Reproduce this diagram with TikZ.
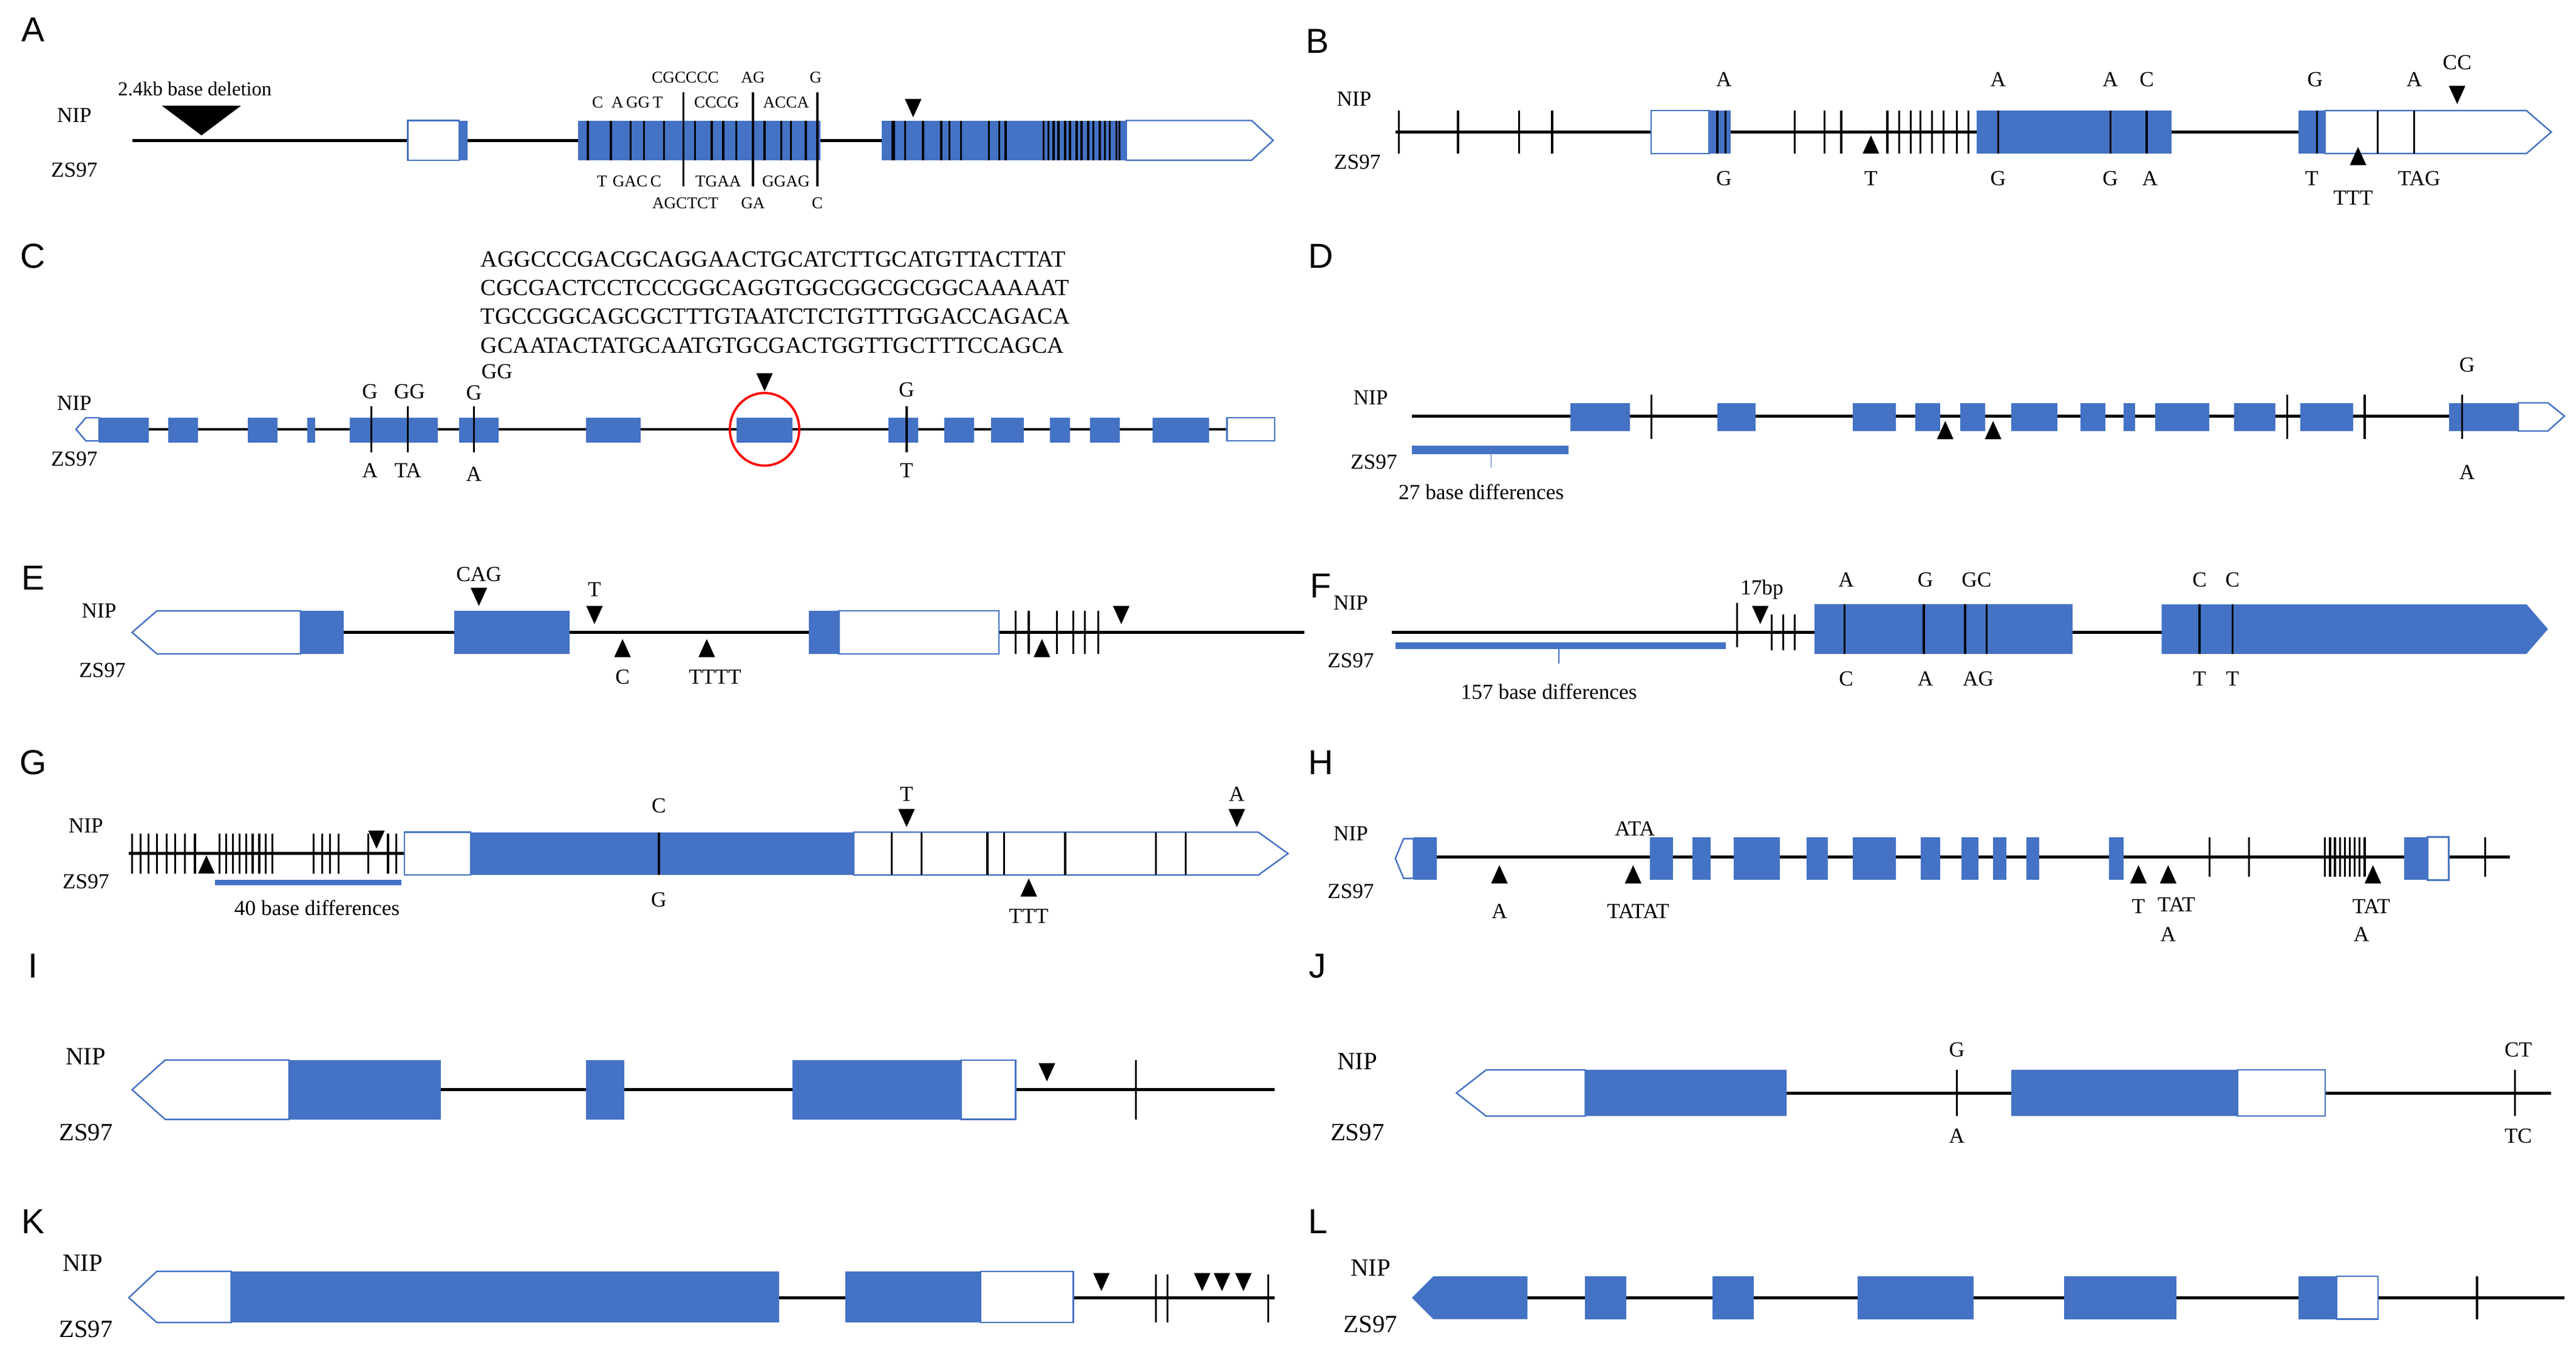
\documentclass[tikz,border=0pt]{standalone}
\usepackage{fontspec}
\setmainfont{Liberation Serif}
\newfontfamily\sansf{Liberation Sans}
\definecolor{gb}{RGB}{68,114,196}
\newcommand\GL[3]{\draw[gl] (#1,#3)--(#2,#3);}
\newcommand\EX[4]{\fill[gb] (#1,#3) rectangle (#2,#4);}
\newcommand\UT[4]{\draw[gb,fill=white,line width=0.9pt] (#1,#3) rectangle (#2,#4);}
\newcommand\TK[3]{\draw[snp] (#1,#2)--(#1,#3);}
\newcommand\TD[2]{\fill (#1-5,#2)--(#1+5,#2)--(#1,#2+11)--cycle;}
\newcommand\TU[2]{\fill (#1-5,#2)--(#1+5,#2)--(#1,#2-11)--cycle;}
\newcommand\LB[3]{\node[lab] at (#1,#2) {#3};}
\newcommand\SL[3]{\node[slab] at (#1,#2) {#3};}
\newcommand\PL[3]{\node[pl] at (#1,#2) {#3};}
\begin{document}
\begin{tikzpicture}[x=1pt,y=-1pt,
 gl/.style={line width=1.8pt},
 snp/.style={line width=1.2pt},
 lab/.style={font=\fontsize{13}{13}\selectfont,inner sep=0},
 slab/.style={font=\fontsize{10}{10}\selectfont,inner sep=0},
 pl/.style={font=\sansf\fontsize{21}{21}\selectfont,inner sep=0},
 nm/.style={font=\fontsize{13}{13}\selectfont,inner sep=0}]
\useasboundingbox (0,0) rectangle (1560,820);
% ===== A
\PL{20}{18}{A}
\node[nm] at (45,70) {NIP}; \node[nm] at (45,103) {ZS97};
\GL{80}{770}{85}
\fill (98,64)--(146,64)--(122,82)--cycle;
\SL{118}{54}{\fontsize{12}{12}\selectfont 2.4kb base deletion}
\UT{247}{278}{73}{97} \EX{278}{283}{73}{97}
\EX{350}{497}{73}{97} \EX{534}{682}{73}{97}
\draw[gb,fill=white,line width=0.9pt] (682,73)--(758,73)--(771,85)--(758,97)--(682,97)--cycle;
\foreach \x in {356,370,382,390,402,421,431,438,446,463,473,479,488} {\TK{\x}{73}{97}}
\foreach \x in {414,456,495} {\TK{\x}{56}{113}}
\foreach \x in {541,548,559,570,575,582,599,605,609,632,635,638,641,645,648,652,655,659,662,666,669,672,676,678} {\TK{\x}{73}{97}}
\draw[line width=2.4pt] (541,73)--(541,97);
\TD{553}{60}
\SL{415}{47}{CGCCCC} \SL{456}{47}{AG} \SL{494}{47}{G}
\SL{380}{62}{C\,\,\,A\,GG\,T} \SL{434}{62}{CCCG} \SL{476}{62}{ACCA}
\SL{381}{110}{T\,\,GAC\,C} \SL{435}{110}{TGAA} \SL{476}{110}{GGAG}
\SL{415}{123}{AGCTCT} \SL{456}{123}{GA} \SL{495}{123}{C}
% ===== B
\PL{798}{25}{B}
\node[nm] at (820,60) {NIP}; \node[nm] at (822,98) {ZS97};
\GL{845}{1392}{80}
\foreach \x in {847,883,920,940,1087,1105,1115,1143,1150,1157,1163,1170,1177,1185,1192} {\TK{\x}{67}{93}}
\UT{1000}{1035}{67}{93} \EX{1035}{1048}{67}{93}
\TK{1040}{67}{93}\TK{1045}{67}{93}
\TU{1133}{93}
\EX{1197}{1315}{67}{93}
\foreach \x in {1210,1278,1300} {\TK{\x}{67}{93}}
\EX{1392}{1408}{67}{93}
\draw[gb,fill=white,line width=0.9pt] (1408,67)--(1530,67)--(1545,80)--(1530,93)--(1408,93)--cycle;
\foreach \x in {1403,1440,1462} {\TK{\x}{67}{93}}
\TU{1428}{100} \TD{1488}{52}
\LB{1044}{48}{A}\LB{1044}{108}{G}\LB{1133}{108}{T}
\LB{1210}{48}{A}\LB{1210}{108}{G}\LB{1278}{48}{A}\LB{1278}{108}{G}
\LB{1300}{48}{C}\LB{1302}{108}{A}
\LB{1402}{48}{G}\LB{1400}{108}{T}\LB{1462}{48}{A}\LB{1465}{108}{TAG}
\LB{1425}{120}{TTT}\LB{1488}{38}{CC}
% ===== C
\PL{20}{155}{C}
\node[lab,anchor=west,align=left,font=\fontsize{14}{17.4}\selectfont] at (291,183) {AGGCCCGACGCAGGAACTGCATCTTGCATGTTACTTAT\\CGCGACTCCTCCCGGCAGGTGGCGGCGCGGCAAAAAT\\TGCCGGCAGCGCTTTGTAATCTCTGTTTGGACCAGACA\\GCAATACTATGCAATGTGCGACTGGTTGCTTTCCAGCA};
\node[nm] at (45,244) {NIP}; \node[nm] at (45,278) {ZS97};
\GL{60}{745}{260}
\draw[gb,fill=white,line width=0.9pt] (60,253)--(52,253)--(46,260)--(52,267)--(60,267)--cycle;
\foreach \a/\b in {60/90,102/120,150/168,186/191,212/265,278/302,355/388,446/480,538/556,572/590,600/620,636/648,660/678,698/732} {\EX{\a}{\b}{253}{268}}
\UT{743}{772}{253}{267}
\foreach \x in {225,247,287,549} {\TK{\x}{246}{274}}
\draw[red,line width=1.4pt] (463,260) ellipse [x radius=21,y radius=22];
\TD{463}{226}
\LB{224}{237}{G}\LB{248}{237}{GG}\LB{287}{238}{G}\LB{301}{225}{GG}\LB{549}{236}{G}
\LB{224}{285}{A}\LB{247}{285}{TA}\LB{287}{287}{A}\LB{549}{285}{T}
% ===== D
\PL{800}{155}{D}
\node[nm] at (830,241) {NIP}; \node[nm] at (832,280) {ZS97};
\GL{855}{1525}{252}
\foreach \a/\b in {951/987,1040/1063,1122/1148,1160/1175,1187/1202,1218/1246,1260/1275,1286/1293,1305/1338,1353/1378,1393/1425,1483/1525} {\EX{\a}{\b}{244}{261}}
\draw[gb,fill=white,line width=0.9pt] (1525,244)--(1543,244)--(1553,252)--(1543,261)--(1525,261)--cycle;
\foreach \x in {1000,1385,1432,1491} {\TK{\x}{239}{266}}
\TU{1178}{266}\TU{1207}{266}
\fill[gb] (855,270) rectangle (950,275);
\draw[gb,line width=0.6pt] (903,275)--(903,283);
\LB{897}{298}{27 base differences}
\LB{1494}{221}{G}\LB{1494}{286}{A}
% ===== E
\PL{20}{350}{E}
\node[nm] at (60,370) {NIP}; \node[nm] at (62,406) {ZS97};
\GL{208}{790}{383}
\draw[gb,fill=white,line width=0.9pt] (182,370)--(95,370)--(80,383)--(95,396)--(182,396)--cycle;
\EX{182}{208}{370}{396}\EX{275}{345}{370}{396}\EX{490}{508}{370}{396}
\UT{508}{605}{370}{396}
\foreach \x in {615,623,640,650,657,665} {\TK{\x}{370}{396}}
\TD{290}{356}\TD{360}{367}\TU{377}{398}\TU{428}{398}\TU{631}{398}\TD{679}{367}
\LB{290}{348}{CAG}\LB{360}{357}{T}\LB{377}{410}{C}\LB{433}{410}{TTTT}
% ===== F
\PL{800}{355}{F}
\node[nm] at (818,365) {NIP}; \node[nm] at (818,400) {ZS97};
\GL{843}{1310}{383}
\fill[gb] (845,389) rectangle (1045,393);
\draw[gb,line width=0.6pt] (944,393)--(944,402);
\LB{938}{419}{157 base differences}
\TK{1052}{365}{392}\foreach \x in {1073,1080,1087} {\TK{\x}{372}{394}}
\TD{1066}{367}\LB{1067}{357}{17bp}
\EX{1099}{1255}{366}{396}
\fill[gb] (1309,366)--(1530,366)--(1543,381)--(1530,396)--(1309,396)--cycle;
\foreach \x in {1117,1165,1190,1203,1332,1352} {\TK{\x}{366}{396}}
\LB{1118}{351}{A}\LB{1166}{351}{G}\LB{1197}{351}{GC}\LB{1332}{351}{C}\LB{1352}{351}{C}
\LB{1118}{411}{C}\LB{1166}{411}{A}\LB{1198}{411}{AG}\LB{1332}{411}{T}\LB{1352}{411}{T}
% ===== G
\PL{20}{462}{G}
\node[nm] at (52,500) {NIP}; \node[nm] at (52,534) {ZS97};
\GL{78}{245}{517}
\foreach \x in {80,85,90,95,101,106,112,118,133,137,141,145,149,153,157,161,165,190,195,200,205,223,235,240} {\TK{\x}{505}{529}}
\TU{125}{529}\TD{228}{503}
\fill[gb] (130,533) rectangle (243,536);
\LB{192}{550}{40 base differences}
\UT{245}{285}{504}{530}\EX{285}{517}{504}{530}
\draw[gb,fill=white,line width=0.9pt] (517,504)--(762,504)--(780,517)--(762,530)--(517,530)--cycle;
\foreach \x in {399,540,558,598,608,645,700,718} {\TK{\x}{504}{530}}
\TD{549}{490}\TU{623}{543}\TD{749}{490}
\LB{399}{488}{C}\LB{399}{545}{G}\LB{549}{481}{T}\LB{623}{555}{TTT}\LB{749}{481}{A}
% ===== H
\PL{800}{462}{H}
\node[nm] at (818,505) {NIP}; \node[nm] at (818,540) {ZS97};
\GL{856}{1520}{519}
\draw[gb,fill=white,line width=0.9pt] (856,508)--(850,508)--(845,520)--(850,532)--(856,532)--cycle;
\foreach \a/\b in {856/870,999/1013,1025/1036,1050/1078,1094/1107,1122/1148,1163/1175,1188/1198,1207/1215,1227/1235,1277/1286,1456/1470} {\EX{\a}{\b}{507}{533}}
\UT{1470}{1483}{507}{533}
\foreach \x in {1338,1362,1408,1411,1414,1417,1420,1423,1426,1429,1432,1505} {\TK{\x}{507}{531}}
\TU{908}{535}\TU{989}{535}\TU{1295}{535}\TU{1313}{535}\TU{1437}{535}
\LB{908}{552}{A}\LB{990}{502}{ATA}\LB{992}{552}{TATAT}
\LB{1295}{549}{T}\LB{1318}{548}{TAT}\LB{1313}{566}{A}\LB{1436}{549}{TAT}\LB{1430}{566}{A}
% ===== I
\PL{20}{585}{I}
\node[lab,font=\fontsize{15}{15}\selectfont] at (52,640) {NIP}; \node[lab,font=\fontsize{15}{15}\selectfont] at (52,686) {ZS97};
\GL{267}{772}{660}
\draw[gb,fill=white,line width=0.9pt] (175,642)--(100,642)--(80,660)--(100,678)--(175,678)--cycle;
\EX{175}{267}{642}{678}\EX{355}{378}{642}{678}\EX{480}{582}{642}{678}
\UT{582}{615}{642}{678}
\TD{634}{644}\TK{688}{642}{678}
% ===== J
\PL{798}{585}{J}
\node[lab,font=\fontsize{15}{15}\selectfont] at (822,643) {NIP}; \node[lab,font=\fontsize{15}{15}\selectfont] at (822,686) {ZS97};
\GL{1082}{1545}{662}
\draw[gb,fill=white,line width=0.9pt] (960,648)--(900,648)--(882,662)--(900,676)--(960,676)--cycle;
\EX{960}{1082}{648}{676}\EX{1218}{1355}{648}{676}\UT{1355}{1408}{648}{676}
\TK{1185}{648}{676}\TK{1523}{648}{676}
\LB{1185}{636}{G}\LB{1185}{688}{A}\LB{1525}{636}{CT}\LB{1525}{688}{TC}
% ===== K
\PL{20}{740}{K}
\node[lab,font=\fontsize{15}{15}\selectfont] at (50,765) {NIP}; \node[lab,font=\fontsize{15}{15}\selectfont] at (52,805) {ZS97};
\GL{472}{772}{786}
\draw[gb,fill=white,line width=0.9pt] (140,770)--(95,770)--(78,786)--(95,801)--(140,801)--cycle;
\EX{140}{472}{770}{801}\EX{512}{594}{770}{801}\UT{594}{650}{770}{801}
\TD{667}{771}\foreach \x in {700,707,768} {\TK{\x}{772}{801}}
\TD{728}{771}\TD{740}{771}\TD{753}{771}
% ===== L
\PL{798}{740}{L}
\node[lab,font=\fontsize{15}{15}\selectfont] at (830,768) {NIP}; \node[lab,font=\fontsize{15}{15}\selectfont] at (830,802) {ZS97};
\GL{925}{1553}{786}
\fill[gb] (925,773)--(868,773)--(855,786)--(868,799)--(925,799)--cycle;
\foreach \a/\b in {960/985,1037/1062,1125/1195,1250/1318,1392/1415} {\EX{\a}{\b}{773}{799}}
\UT{1415}{1440}{773}{799}
\TK{1500}{773}{799}
\end{tikzpicture}
\end{document}
